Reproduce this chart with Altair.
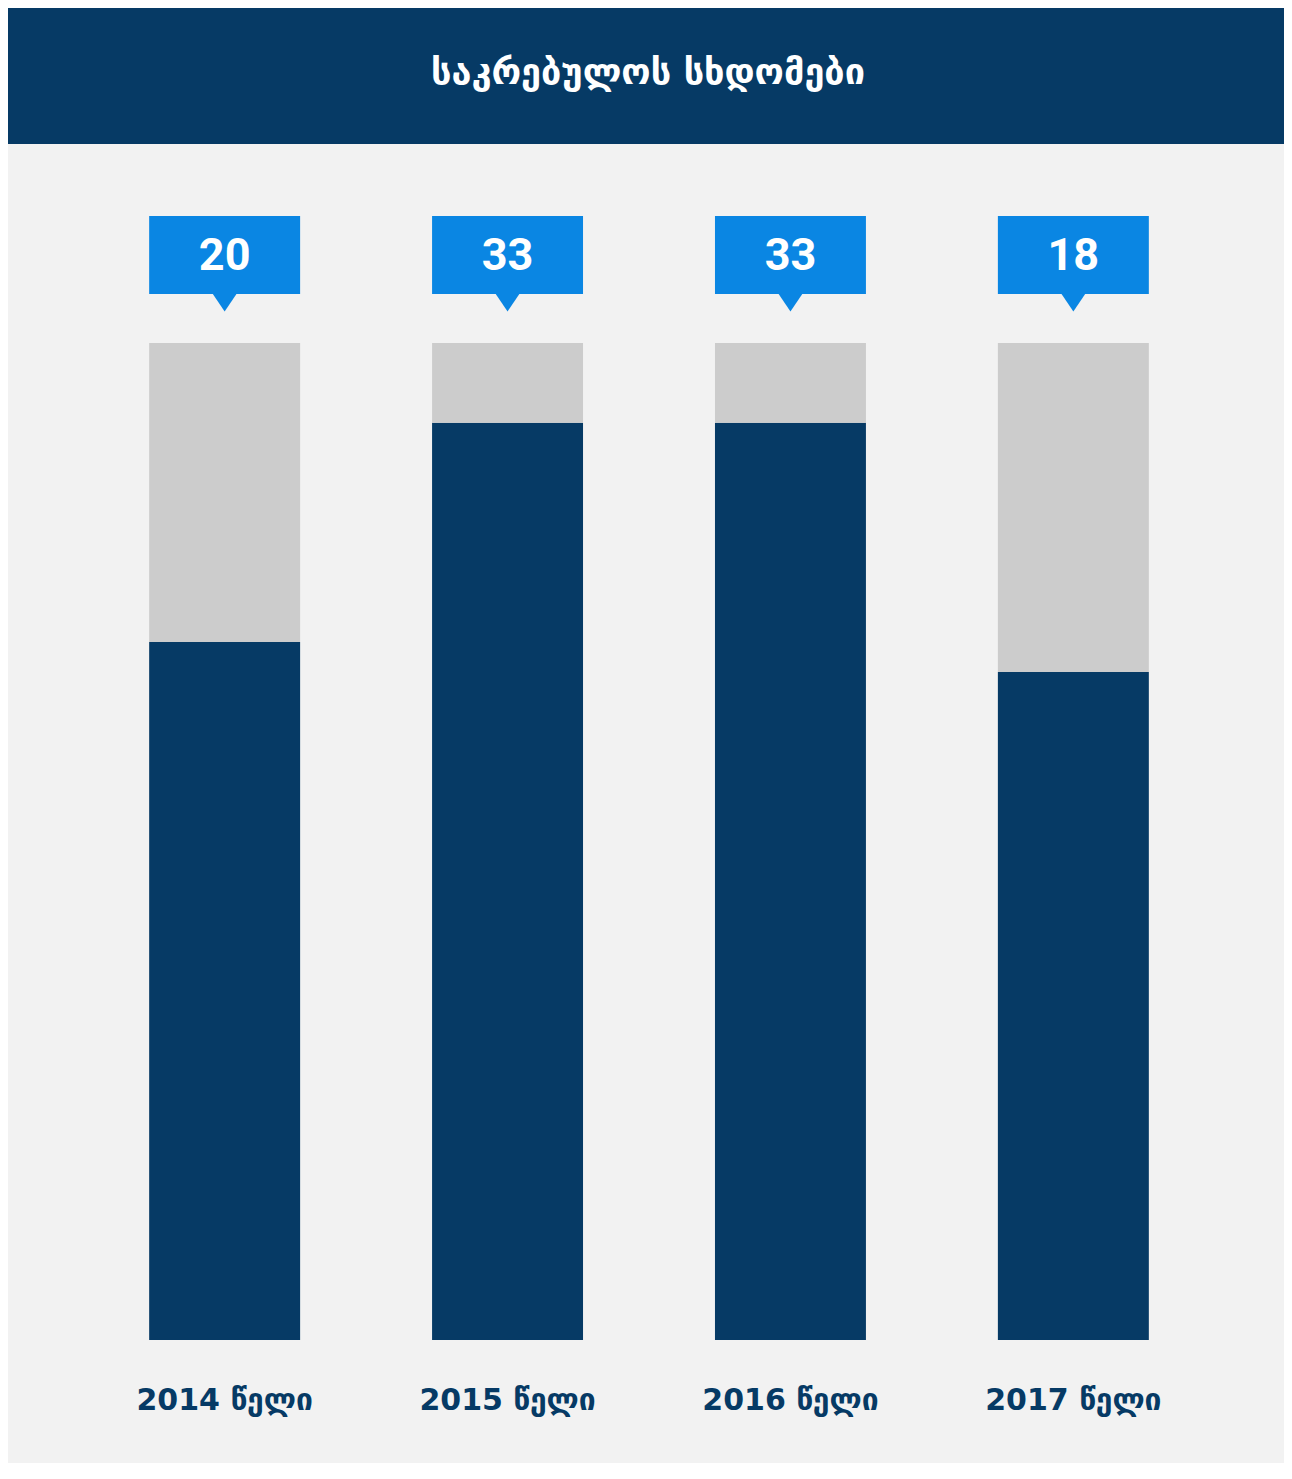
import altair as alt
import pandas as pd

# ---- data ----
years = ["2014", "2015", "2016", "2017"]
year_labels = ["2014 წელი", "2015 წელი", "2016 წელი", "2017 წელი"]
sessions = [20, 33, 33, 18]
dark_share = [70, 92, 92, 67]          # dark (blue) part of each bar, percent
title_text = "საკრებულოს სხდომები"

# ---- layout ----
TOTAL_W = 1276
W, PH = 1226, 997
LEFT = 28
RIGHT = TOTAL_W - W - LEFT
TOP = 335
H_TOTAL = 1455
BOTTOM = H_TOTAL - TOP - PH

DARK = "#063a65"
GRAY = "#cccccc"
BLUE = "#0a86e3"
BG = "#f2f2f2"

df = pd.DataFrame({"year": years, "label": year_labels,
                   "sessions": sessions, "dark": dark_share})
df["gray"] = 100 - df["dark"]

long = df.melt(id_vars=["year"], value_vars=["dark", "gray"],
               var_name="part", value_name="share")
long["order"] = long["part"].map({"dark": 0, "gray": 1})

xscale = alt.Scale(domain=years, paddingInner=0.4664, paddingOuter=0.4)
x = alt.X("year:N", scale=xscale, axis=None)

bars = alt.Chart(long).mark_bar().encode(
    x=x,
    y=alt.Y("share:Q", stack="zero",
            scale=alt.Scale(domain=[0, 100], nice=False, zero=True), axis=None),
    color=alt.Color("part:N",
                    scale=alt.Scale(domain=["dark", "gray"], range=[DARK, GRAY]),
                    legend=None),
    order=alt.Order("order:Q"),
)

title_df = pd.DataFrame({"t": [title_text]})
header = alt.Chart(title_df).mark_rect(color=DARK).encode(
    x=alt.value(-LEFT), x2=alt.value(TOTAL_W - LEFT),
    y=alt.value(-TOP), y2=alt.value(-TOP + 136),
)
header_text = alt.Chart(title_df).mark_text(
    font="DejaVu Sans", fontWeight="bold", fontSize=36, color="white",
    baseline="middle", align="center",
).encode(x=alt.value(640 - LEFT), y=alt.value(73 - 343), text="t:N")

box = alt.Chart(df).mark_rect(color=BLUE).encode(
    x=x, y=alt.value(-127), y2=alt.value(-49)
)
pointer = alt.Chart(df).mark_point(
    shape="M-1,-0.8L1,-0.8L0,0.68Z", filled=True, size=625,
    color=BLUE, opacity=1, strokeWidth=0,
).encode(x=x, y=alt.value(-40))
numbers = alt.Chart(df).mark_text(
    font="Roboto", fontWeight="bold", fontSize=45, color="white",
    baseline="middle", align="center",
).encode(x=x, y=alt.value(-87.5), text="sessions:Q")

labels = alt.Chart(df).mark_text(
    font="DejaVu Sans", fontWeight="bold", fontSize=30, color=DARK,
    baseline="middle", align="center",
).encode(x=x, y=alt.value(1058), text="label:N")

chart = alt.layer(bars, header, header_text, box, pointer, numbers, labels).properties(
    width=W, height=PH,
    padding={"left": LEFT, "top": TOP, "right": RIGHT, "bottom": BOTTOM},
    autosize=alt.AutoSizeParams(type="none"),
    background=BG,
).configure_view(stroke=None)

chart.save("out.html", embed_options={"renderer": "svg", "actions": False})
